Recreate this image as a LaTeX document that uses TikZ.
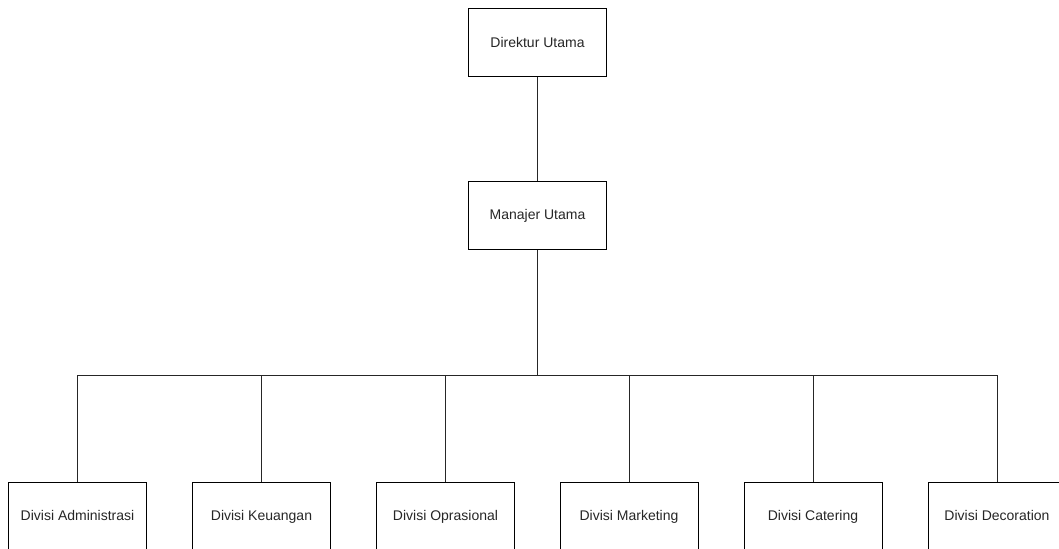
\documentclass[tikz,border=0pt]{standalone}
\usepackage{fontspec}
\setmainfont{Liberation Sans}
\begin{document}
\begin{tikzpicture}[x=0.75pt,y=-0.75pt,
  box/.style={draw=black,line width=0.75pt,minimum width=103.5pt,minimum height=51pt,inner sep=0pt,text height=0.72em,text depth=0pt,font=\fontsize{10.5}{12}\selectfont,text=black!85},
  conn/.style={draw=black!85,line width=0.75pt}]
\useasboundingbox (0,0) rectangle (1059,549);
\node[box] (dir) at (537.5,43) {Direktur Utama};
\node[box] (man) at (537.5,215) {Manajer Utama};
\node[box] (b1) at (77.5,516) {Divisi Administrasi};
\node[box] (b2) at (261.5,516) {Divisi Keuangan};
\node[box] (b3) at (445.5,516) {Divisi Oprasional};
\node[box] (b4) at (629,516) {Divisi Marketing};
\node[box] (b5) at (813,516) {Divisi Catering};
\node[box] (b6) at (997,516) {Divisi Decoration};
\coordinate (bus) at (537.5,375);
\draw[conn] (dir.south) -- (man.north);
\draw[conn] (man.south) -- (bus);
\foreach \n in {b1,b2,b3,b4,b5,b6}{
  \draw[conn] (bus) -| (\n.north);
}
\end{tikzpicture}
\end{document}
